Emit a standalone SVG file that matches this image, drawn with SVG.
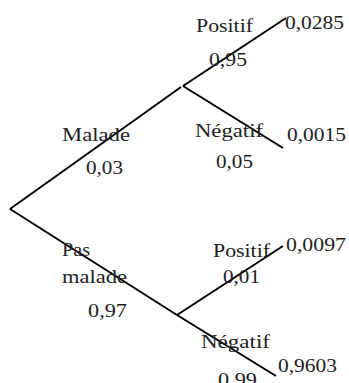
<svg xmlns="http://www.w3.org/2000/svg" width="349" height="383" viewBox="0 0 349 383">
<style>
.e{stroke:#000;stroke-width:2;fill:none;stroke-linecap:butt}
text{font-family:"Times New Roman","Liberation Serif",serif;font-size:19px;fill:#222}
</style>
<rect width="349" height="383" fill="#fff"/>
<g id="connectors">
<line class="e" x1="10" y1="209" x2="181" y2="87"/>
<line class="e" x1="183" y1="86" x2="286" y2="18"/>
<line class="e" x1="183" y1="86" x2="283" y2="148"/>
<line class="e" x1="10" y1="209" x2="177" y2="315"/>
<line class="e" x1="177" y1="315" x2="283" y2="246"/>
<line class="e" x1="177" y1="315" x2="276" y2="376"/>
</g>
<g id="malade"><text x="62" y="141" textLength="68" lengthAdjust="spacingAndGlyphs">Malade</text><text x="86" y="174" textLength="37" lengthAdjust="spacingAndGlyphs">0,03</text></g>
<g id="pas-malade"><text x="62" y="256" textLength="28" lengthAdjust="spacingAndGlyphs">Pas</text><text x="62" y="283" textLength="65" lengthAdjust="spacingAndGlyphs">malade</text><text x="88" y="317" textLength="39" lengthAdjust="spacingAndGlyphs">0,97</text></g>
<g id="m-positif"><text x="196" y="32" textLength="57" lengthAdjust="spacingAndGlyphs">Positif</text><text x="209" y="66" textLength="38" lengthAdjust="spacingAndGlyphs">0,95</text><text x="285" y="29" textLength="59" lengthAdjust="spacingAndGlyphs">0,0285</text></g>
<g id="m-negatif"><text x="195" y="137" textLength="68" lengthAdjust="spacingAndGlyphs">Négatif</text><text x="216" y="168" textLength="37" lengthAdjust="spacingAndGlyphs">0,05</text><text x="287" y="141" textLength="59" lengthAdjust="spacingAndGlyphs">0,0015</text></g>
<g id="p-positif"><text x="213" y="257" textLength="57" lengthAdjust="spacingAndGlyphs">Positif</text><text x="223" y="283" textLength="37" lengthAdjust="spacingAndGlyphs">0,01</text><text x="286" y="251" textLength="60" lengthAdjust="spacingAndGlyphs">0,0097</text></g>
<g id="p-negatif"><text x="201" y="348" textLength="69" lengthAdjust="spacingAndGlyphs">Négatif</text><text x="218" y="386" textLength="39" lengthAdjust="spacingAndGlyphs">0,99</text><text x="278" y="372" textLength="59" lengthAdjust="spacingAndGlyphs">0,9603</text></g>
</svg>
